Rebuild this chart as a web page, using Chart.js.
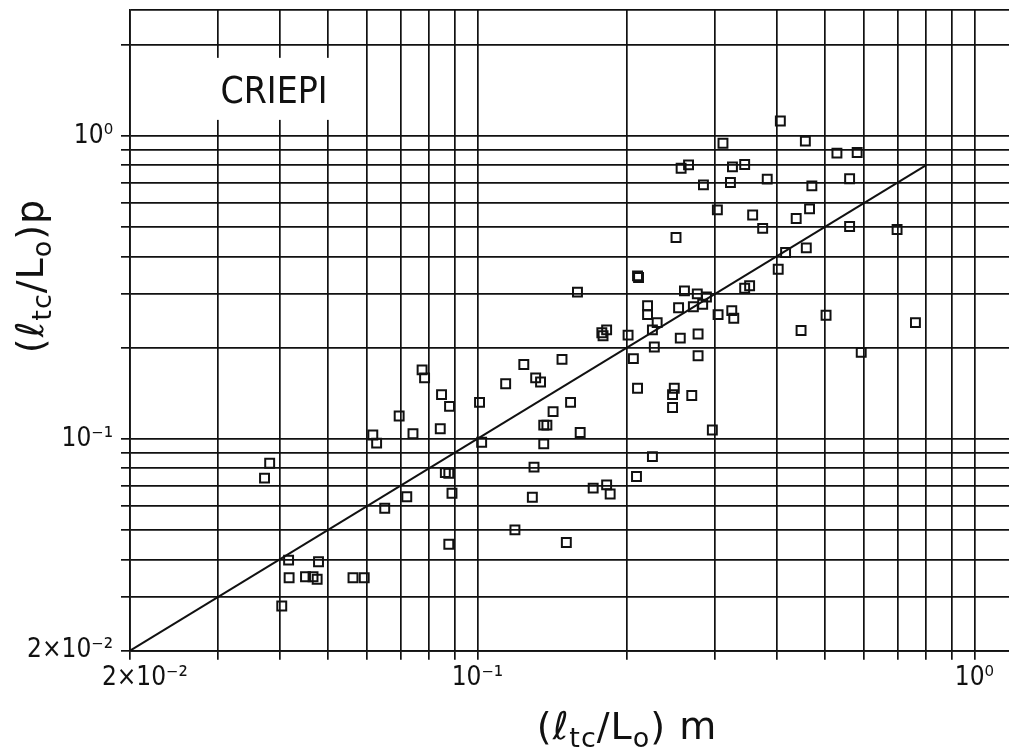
<!DOCTYPE html>
<html><head><meta charset="utf-8">
<script src="https://cdn.jsdelivr.net/npm/chart.js@4/dist/chart.umd.min.js"></script>
<style>html,body{margin:0;padding:0;background:#fff;}canvas{display:block;}</style>
</head><body>
<canvas id="c" width="1009" height="750"></canvas>
<script>
// measured (ltc/Lo)m values
const measuredX = [0.407,0.312,0.457,0.529,0.581,0.257,0.266,0.326,0.345,0.285,0.323,0.383,0.471,0.561,0.304,0.358,0.438,0.466,0.375,0.561,0.699,0.251,0.459,0.417,0.403,0.353,0.345,0.261,0.277,0.289,0.284,0.272,0.254,0.220,0.220,0.305,0.325,0.328,0.503,0.230,0.225,0.178,0.182,0.179,0.201,0.256,0.278,0.448,0.227,0.592,0.206,0.278,0.148,0.124,0.210,0.211,0.159,0.761,0.114,0.131,0.134,0.0774,0.0783,0.0847,0.0879,0.101,0.154,0.142,0.210,0.249,0.247,0.247,0.270,0.0696,0.136,0.138,0.161,0.297,0.0842,0.0742,0.0616,0.0627,0.102,0.136,0.225,0.130,0.0862,0.0876,0.209,0.0373,0.0382,0.171,0.182,0.185,0.0889,0.0721,0.129,0.0651,0.119,0.151,0.0876,0.0417,0.0479,0.0418,0.0451,0.0467,0.0476,0.0562,0.0592,0.0404];
// predicted (ltc/Lo)p values
const predictedY = [1.12,0.945,0.961,0.877,0.881,0.782,0.802,0.790,0.804,0.689,0.702,0.720,0.684,0.722,0.570,0.548,0.534,0.574,0.495,0.502,0.491,0.462,0.427,0.412,0.363,0.320,0.314,0.308,0.301,0.294,0.278,0.273,0.271,0.275,0.257,0.257,0.265,0.250,0.256,0.242,0.229,0.224,0.229,0.219,0.220,0.215,0.222,0.228,0.201,0.193,0.184,0.188,0.183,0.176,0.345,0.341,0.305,0.242,0.152,0.159,0.154,0.169,0.159,0.140,0.128,0.132,0.132,0.123,0.147,0.147,0.140,0.127,0.139,0.119,0.111,0.111,0.105,0.107,0.108,0.104,0.103,0.0968,0.0975,0.0963,0.0874,0.0807,0.0774,0.0770,0.0751,0.0742,0.0831,0.0688,0.0705,0.0658,0.0662,0.0644,0.0642,0.0590,0.0501,0.0455,0.0449,0.0398,0.0393,0.0348,0.0351,0.0351,0.0344,0.0348,0.0348,0.0281];
// 1:1 reference line
const lineX = [0.02, 0.8];
const lineY = [0.02, 0.8];
// axes
const xMin = 0.02, xMax = 1.174;
const yMin = 0.02, yMax = 2.612;
const xTicks = [0.02,0.03,0.04,0.05,0.06,0.07,0.08,0.09,0.1,0.2,0.3,0.4,0.5,0.6,0.7,0.8,0.9,1];
const yTicks = [0.02,0.03,0.04,0.05,0.06,0.07,0.08,0.09,0.1,0.2,0.3,0.4,0.5,0.6,0.7,0.8,0.9,1,2,yMax];
const xTickLabels = {0.02:'    2×10⁻²', 0.1:'10⁻¹', 1:'10⁰'};
const yTickLabels = {0.02:'2×10⁻²', 0.1:'10⁻¹', 1:'10⁰'};
const labelText = 'CRIEPI';
const xTitleParts = [['(ℓ',0],['tc',1],['/L',0],['o',1],[') m',0]];
const yTitleParts = [['(ℓ',0],['tc',1],['/L',0],['o',1],[')p',0]];

const FONT = "'Liberation Sans Narrow','DejaVu Sans Condensed','Liberation Sans',sans-serif";
const TFONT = "'DejaVu Sans',sans-serif";
const INK = '#111';

function drawParts(ctx, parts, cx, base){
  const big = '38px ' + TFONT, small = '27px ' + TFONT;
  if ('letterSpacing' in ctx) ctx.letterSpacing = '1px';
  let w = 0;
  parts.forEach(p => { ctx.font = p[1] ? small : big; w += ctx.measureText(p[0]).width; });
  let x = cx - w/2;
  ctx.textAlign = 'left'; ctx.textBaseline = 'alphabetic';
  parts.forEach(p => {
    ctx.font = p[1] ? small : big;
    ctx.fillText(p[0], x, base + (p[1] ? 8 : 0));
    x += ctx.measureText(p[0]).width;
  });
}

const deco = {
  id: 'deco',
  beforeDatasetsDraw(chart){
    const {ctx, scales:{x, y}} = chart;
    const l = x.getPixelForValue(xMin) + 1.5, r = x.getPixelForValue(0.0543);
    const t = y.getPixelForValue(1.809), b = y.getPixelForValue(1.129);
    ctx.save();
    ctx.fillStyle = '#fff';
    ctx.fillRect(l, t, r - l, b - t);
    ctx.fillStyle = INK;
    ctx.font = '37px ' + FONT;
    ctx.textAlign = 'center'; ctx.textBaseline = 'alphabetic';
    ctx.fillText(labelText, 274, 103);
    ctx.restore();
  },
  afterDraw(chart){
    const ctx = chart.ctx;
    ctx.save();
    ctx.fillStyle = INK;
    drawParts(ctx, xTitleParts, 627, 739);
    ctx.translate(43, 276);
    ctx.rotate(-Math.PI/2);
    drawParts(ctx, yTitleParts, 0, 0);
    ctx.restore();
  }
};

const gridBase = {color: INK, lineWidth: 1.7, drawTicks: true, tickLength: 9, tickWidth: 1.7};

new Chart(document.getElementById('c'), {
  type: 'scatter',
  data: {
    datasets: [
      {
        data: measuredX.map((v, i) => ({x: v, y: predictedY[i]})),
        pointStyle: 'rect', pointRadius: 6.3, pointBorderWidth: 2,
        pointBorderColor: INK, pointBackgroundColor: 'rgba(0,0,0,0)',
        showLine: false
      },
      {
        data: lineX.map((v, i) => ({x: v, y: lineY[i]})),
        showLine: true, pointRadius: 0, borderColor: INK, borderWidth: 2
      }
    ]
  },
  options: {
    responsive: false, animation: false, devicePixelRatio: 1,
    layout: {autoPadding: false, padding: {top: 9.5, left: 0, right: 0, bottom: 0}},
    plugins: {legend: {display: false}, tooltip: {enabled: false}},
    scales: {
      x: {
        type: 'logarithmic', min: xMin, max: xMax,
        afterBuildTicks: s => { s.ticks = xTicks.map(v => ({value: v})); },
        afterFit: s => { s.height = 99.3; s.paddingLeft = 0; s.paddingRight = 0; },
        grid: Object.assign({}, gridBase),
        border: {display: true, color: INK, width: 1.7},
        ticks: {
          autoSkip: false, maxRotation: 0, padding: 3, color: INK,
          font: {family: FONT, size: 26},
          callback: v => xTickLabels[v] || ''
        }
      },
      y: {
        type: 'logarithmic', min: yMin, max: yMax,
        afterBuildTicks: s => { s.ticks = yTicks.map(v => ({value: v})); },
        afterFit: s => { s.width = 130; s.paddingTop = 0; s.paddingBottom = 0; },
        grid: Object.assign({}, gridBase, {tickColor: c => (c.tick && c.tick.value === yMax) ? 'rgba(0,0,0,0)' : INK}),
        border: {display: true, color: INK, width: 1.7},
        ticks: {
          autoSkip: false, padding: 8, color: INK,
          font: {family: FONT, size: 26},
          callback: v => yTickLabels[v] || ''
        }
      }
    }
  },
  plugins: [deco]
});
</script>
</body></html>
